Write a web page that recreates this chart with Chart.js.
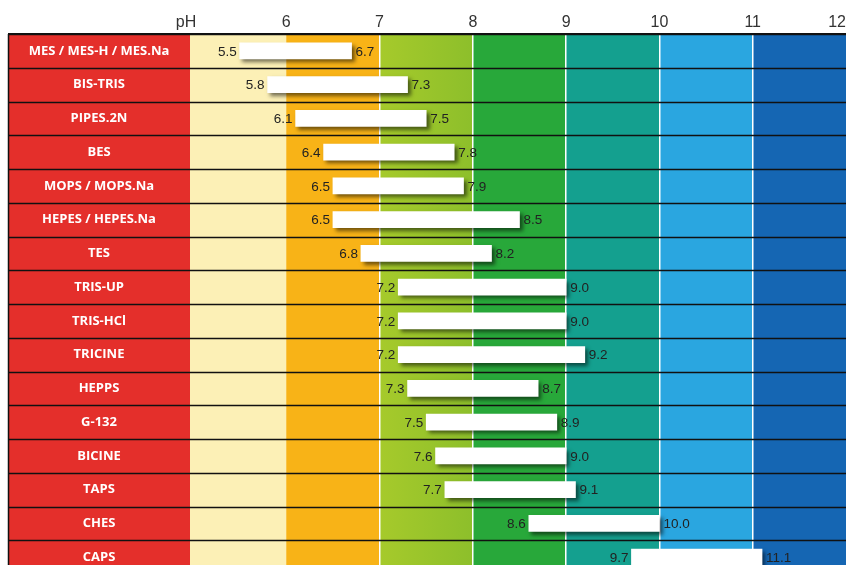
<!DOCTYPE html>
<html>
<head>
<meta charset="utf-8">
<script src="https://cdn.jsdelivr.net/npm/chart.js@4"></script>
<style>
  html, body { margin: 0; padding: 0; background: #fff; overflow: hidden; }
  #wrap { width: 846px; height: 574px; }
</style>
</head>
<body>
<div id="wrap"><canvas id="phChart" width="846" height="574"></canvas></div>
<script>
// buffers and their useful pH range
var buffers = ['MES / MES-H / MES.Na', 'BIS-TRIS', 'PIPES.2N', 'BES', 'MOPS / MOPS.Na',
  'HEPES / HEPES.Na', 'TES', 'TRIS-UP', 'TRIS-HCl', 'TRICINE', 'HEPPS', 'G-132',
  'BICINE', 'TAPS', 'CHES', 'CAPS'];
var lowPH = [5.5, 5.8, 6.1, 6.4, 6.5, 6.5, 6.8, 7.2, 7.2, 7.2, 7.3, 7.5, 7.6, 7.7, 8.6, 9.7];
var highPH = [6.7, 7.3, 7.5, 7.8, 7.9, 8.5, 8.2, 9.0, 9.0, 9.2, 8.7, 8.9, 9.0, 9.1, 10.0, 11.1];

var xTicks = [5, 6, 7, 8, 9, 10, 11, 12];
var xTickLabels = ['pH', '6', '7', '8', '9', '10', '11', '12'];

// one colour per pH unit, 5-6 ... 11-12
var bandColors = ['#fcf0b6', '#f8b317', '#9cc52b', '#28a83a', '#14a08f', '#2aa6e0', '#1566b3'];
var redColor = '#e42f2b';

var ranges = lowPH.map(function(v, i) { return [v, highPH[i]]; });

var backdrop = {
  id: 'backdrop',
  beforeDraw: function(chart) {
    var ctx = chart.ctx, a = chart.chartArea, x = chart.scales.x;
    var redEnd = a.left - 3;
    ctx.save();
    // red name column
    ctx.fillStyle = redColor;
    ctx.fillRect(8, a.top, redEnd - 8, a.bottom - a.top);
    // pH bands
    for (var i = 0; i < bandColors.length; i++) {
      var x0 = x.getPixelForValue(5 + i), x1 = x.getPixelForValue(6 + i);
      if (i === 0) x0 = redEnd;
      if (i === 2) {
        var g = ctx.createLinearGradient(x0, 0, x1, 0);
        g.addColorStop(0, '#a6ca2b');
        g.addColorStop(1, '#8dbf2b');
        ctx.fillStyle = g;
      } else {
        ctx.fillStyle = bandColors[i];
      }
      ctx.fillRect(x0, a.top, x1 - x0 + 0.5, a.bottom - a.top);
    }
    ctx.restore();
  },
  beforeDatasetsDraw: function(chart) {
    var ctx = chart.ctx, a = chart.chartArea, y = chart.scales.y;
    var step = (a.bottom - a.top) / buffers.length;
    ctx.save();
    ctx.strokeStyle = '#111';
    ctx.lineWidth = 1.5;
    for (var i = 0; i <= buffers.length; i++) {
      var yy = Math.round(a.top + i * step) + 0.5;
      ctx.beginPath();
      ctx.moveTo(8, yy);
      ctx.lineTo(a.right, yy);
      ctx.stroke();
    }
    ctx.beginPath();
    ctx.moveTo(8.5, a.top);
    ctx.lineTo(8.5, a.bottom);
    ctx.stroke();
    // names
    ctx.fillStyle = '#fff';
    ctx.font = 'bold 13px "Open Sans", sans-serif';
    ctx.textAlign = 'center';
    ctx.textBaseline = 'middle';
    buffers.forEach(function(name, i) {
      ctx.fillText(name, (8 + a.left - 3) / 2, y.getPixelForValue(i));
    });
    ctx.restore();
    // drop shadow for the bars
    ctx.save();
    ctx.shadowColor = 'rgba(0,0,0,0.55)';
    ctx.shadowBlur = 4;
    ctx.shadowOffsetX = 3;
    ctx.shadowOffsetY = 3;
  },
  afterDatasetsDraw: function(chart) {
    var ctx = chart.ctx, x = chart.scales.x, y = chart.scales.y, a = chart.chartArea;
    ctx.restore();
    ctx.save();
    ctx.font = '13.5px "Liberation Sans", Arial, sans-serif';
    ctx.fillStyle = '#222';
    ctx.textBaseline = 'middle';
    for (var i = 0; i < buffers.length; i++) {
      var yy = y.getPixelForValue(i) + 1;
      ctx.textAlign = 'right';
      ctx.fillText(lowPH[i].toFixed(1), x.getPixelForValue(lowPH[i]) - 3, yy);
      ctx.textAlign = 'left';
      ctx.fillText(highPH[i].toFixed(1), x.getPixelForValue(highPH[i]) + 4, yy);
    }
    // pH axis labels
    ctx.font = '16px "Liberation Sans", Arial, sans-serif';
    ctx.fillStyle = '#333';
    ctx.textBaseline = 'alphabetic';
    xTicks.forEach(function(t, i) {
      var px = x.getPixelForValue(t);
      var txt = xTickLabels[i];
      var w = ctx.measureText(txt).width;
      ctx.textAlign = 'center';
      if (i === 0) px -= 7;
      if (px + w / 2 > chart.width) { ctx.textAlign = 'right'; px = chart.width; }
      ctx.fillText(txt, px, a.top - 7);
    });
    // top border
    ctx.strokeStyle = '#111';
    ctx.lineWidth = 2;
    ctx.beginPath();
    ctx.moveTo(8, a.top);
    ctx.lineTo(a.right, a.top);
    ctx.stroke();
    ctx.restore();
  }
};

var ctx = document.getElementById('phChart').getContext('2d');
var phChart = new Chart(ctx, {
  type: 'bar',
  data: {
    labels: buffers,
    datasets: [{
      label: 'pH range',
      data: ranges,
      backgroundColor: '#ffffff',
      borderWidth: 0,
      borderSkipped: false,
      barThickness: 16
    }]
  },
  options: {
    indexAxis: 'y',
    responsive: false,
    animation: false,
    layout: { padding: { left: 193, right: 0, top: 0, bottom: 0 } },
    plugins: { legend: { display: false }, tooltip: { enabled: false } },
    scales: {
      x: {
        type: 'linear',
        position: 'top',
        min: 5,
        max: 12,
        afterBuildTicks: function(scale) {
          scale.ticks = xTicks.map(function(v) { return { value: v }; });
        },
        afterFit: function(scale) {
          scale.height = 34;
          scale.paddingLeft = 0;
          scale.paddingRight = 0;
        },
        ticks: { display: false },
        border: { display: false },
        grid: {
          drawTicks: false,
          lineWidth: 1.5,
          color: function(c) {
            var v = c.tick ? c.tick.value : 0;
            return (v >= 7 && v <= 11) ? '#ffffff' : 'rgba(0,0,0,0)';
          }
        }
      },
      y: {
        display: false
      }
    }
  },
  plugins: [backdrop]
});
</script>
</body>
</html>
